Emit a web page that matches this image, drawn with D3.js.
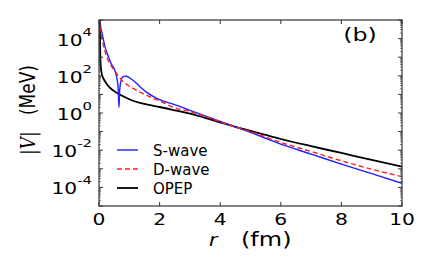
<!DOCTYPE html>
<html>
<head>
<meta charset="utf-8">
<script src="https://cdn.jsdelivr.net/npm/d3@7"></script>
<style>
  body { margin: 0; background: #fff; }
  text { font-family: "DejaVu Sans", sans-serif; }
</style>
</head>
<body>
<div id="chart"></div>
<script>
// chart data
var sR = [0.02, 0.05, 0.1, 0.2, 0.3, 0.4, 0.5, 0.55, 0.6, 0.63, 0.66, 0.68, 0.72, 0.8, 0.9, 1.0, 1.2, 1.4, 1.6, 1.8, 2.0, 2.5, 3.0, 3.5, 4.0, 4.5, 5.0, 5.5, 6.0, 7.0, 8.0, 9.0, 10.0];
var sV = [1.5e5, 5e4, 2e4, 3.5e3, 1.2e3, 4.5e2, 2.4e2, 1.4e2, 60, 25, 2, 15, 50, 90, 95, 80, 45, 22, 12, 7.5, 5.2, 2.8, 1.4, 0.7, 0.35, 0.18, 0.09, 0.044, 0.021, 0.0062, 0.0018, 0.00055, 0.000166];

var dR = [0.02, 0.05, 0.1, 0.2, 0.3, 0.4, 0.5, 0.6, 0.7, 0.8, 1.0, 1.2, 1.4, 1.6, 1.8, 2.0, 2.5, 3.0, 3.5, 4.0, 4.5, 5.0, 6.0, 7.0, 8.0, 9.0, 10.0];
var dV = [1.2e5, 3e4, 1e4, 2e3, 7e2, 3.5e2, 2e2, 1.2e2, 75, 48, 28, 18, 12, 8.5, 6, 4.5, 1.9, 1.2, 0.65, 0.34, 0.18, 0.1, 0.026, 0.0085, 0.0027, 0.00095, 0.00038];

var oR = [0.03, 0.04, 0.06, 0.1, 0.2, 0.35, 0.5, 0.7, 1.0, 1.25, 1.6, 2.0, 2.5, 3.0, 3.5, 4.0, 4.5, 5.0, 5.5, 6.0, 7.0, 8.0, 9.0, 10.0];
var oV = [1e5, 2e3, 300, 110, 50, 24, 15, 9.5, 5.5, 3.9, 2.8, 2.1, 1.4, 0.92, 0.55, 0.31, 0.18, 0.11, 0.066, 0.04, 0.0165, 0.0071, 0.003, 0.0013];

var seriesNames = ["S-wave", "D-wave", "OPEP"];
var xTicks = [0, 2, 4, 6, 8, 10];
var yTicks = [1e-4, 1e-2, 1e0, 1e2, 1e4];

var svgWidth = 436, svgHeight = 273;
var margin = { top: 20, right: 34, bottom: 67, left: 99 };
var width = svgWidth - margin.left - margin.right;
var height = svgHeight - margin.top - margin.bottom;

var svg = d3.select("#chart").append("svg")
  .attr("width", svgWidth)
  .attr("height", svgHeight);

var chartGroup = svg.append("g")
  .attr("transform", `translate(${margin.left}, ${margin.top})`);

var xScale = d3.scaleLinear().domain([0, 10]).range([0, width]);
var yScale = d3.scaleLog().domain([1e-5, 1e5]).range([height, 0]);

chartGroup.append("clipPath").attr("id", "clip")
  .append("rect").attr("width", width).attr("height", height);

var line = d3.line()
  .x(d => xScale(d[0]))
  .y(d => yScale(d[1]))
  .curve(d3.curveMonotoneX);

var series = [
  { name: seriesNames[0], pts: d3.zip(sR, sV), color: "#1f1fff", width: 1.4, dash: null },
  { name: seriesNames[1], pts: d3.zip(dR, dV), color: "#ff2020", width: 1.4, dash: "5,3" },
  { name: seriesNames[2], pts: d3.zip(oR, oV), color: "#000", width: 1.8, dash: null }
];

// text squeezed/stretched horizontally like the original
function stext(parent, x, y, sx, anchor, size) {
  return parent.append("text")
    .attr("transform", `translate(${x}, ${y}) scale(${sx}, 1)`)
    .attr("text-anchor", anchor)
    .attr("font-size", size);
}

var lines = chartGroup.append("g").attr("clip-path", "url(#clip)");
[series[2], series[0], series[1]].forEach(function(s) {
  lines.append("path")
    .attr("d", line(s.pts))
    .attr("fill", "none")
    .attr("stroke", s.color)
    .attr("stroke-width", s.width)
    .attr("stroke-dasharray", s.dash);
});

// axes frame
chartGroup.append("rect")
  .attr("width", width).attr("height", height)
  .attr("fill", "none").attr("stroke", "#333").attr("stroke-width", 1.2);

// x ticks (inward, top & bottom)
xTicks.forEach(function(t) {
  var x = xScale(t);
  chartGroup.append("line").attr("x1", x).attr("x2", x).attr("y1", height).attr("y2", height - 4).attr("stroke", "#333");
  chartGroup.append("line").attr("x1", x).attr("x2", x).attr("y1", 0).attr("y2", 4).attr("stroke", "#333");
  stext(chartGroup, x, height + 19, 1.35, "middle", 15).text(t);
});

// y ticks: majors every decade, minors 2..9
for (var e = -5; e <= 5; e++) {
  var yv = Math.pow(10, e);
  var y = yScale(yv);
  chartGroup.append("line").attr("x1", 0).attr("x2", 4).attr("y1", y).attr("y2", y).attr("stroke", "#333");
  chartGroup.append("line").attr("x1", width).attr("x2", width - 4).attr("y1", y).attr("y2", y).attr("stroke", "#333");
  if (e < 5) {
    for (var m = 2; m <= 9; m++) {
      var ym = yScale(m * yv);
      chartGroup.append("line").attr("x1", 0).attr("x2", 2).attr("y1", ym).attr("y2", ym).attr("stroke", "#333").attr("stroke-width", 0.6);
      chartGroup.append("line").attr("x1", width).attr("x2", width - 2).attr("y1", ym).attr("y2", ym).attr("stroke", "#333").attr("stroke-width", 0.6);
    }
  }
}

yTicks.forEach(function(t) {
  var exp = Math.round(Math.log10(t));
  var txt = stext(chartGroup, -7, yScale(t) + 7, 1.35, "end", 15);
  txt.append("tspan").text("10");
  txt.append("tspan").attr("dy", -10).attr("font-size", 11).text(exp);
});

// y axis label
svg.append("text")
  .attr("transform", "translate(35, 110) rotate(-90) scale(1, 1.2)")
  .attr("text-anchor", "middle")
  .attr("font-size", 17)
  .call(function(t) {
    t.append("tspan").attr("font-family", "DejaVu Serif").text("|");
    t.append("tspan").attr("font-family", "DejaVu Serif").attr("font-style", "italic").text("V");
    t.append("tspan").attr("font-family", "DejaVu Serif").text("|");
    t.append("tspan").text("\u00a0\u00a0\u00a0(MeV)");
  });

// x axis label
stext(svg, 209, 246, 1.2, "start", 17)
  .attr("font-family", "DejaVu Serif").attr("font-style", "italic").text("r");
stext(svg, 241, 246, 1.2, "start", 20).text("(fm)");

// panel tag
stext(svg, 360, 41, 1.4, "middle", 17).text("(b)");

// legend
var legend = svg.append("g").attr("transform", "translate(117, 150)");
series.forEach(function(s, i) {
  var g = legend.append("g").attr("transform", `translate(0, ${i * 19})`);
  g.append("line").attr("x1", 0).attr("x2", 21).attr("y1", 0).attr("y2", 0)
    .attr("stroke", s.color).attr("stroke-width", s.width)
    .attr("stroke-dasharray", s.dash);
  g.append("text").attr("x", 36).attr("y", 5.5).attr("font-size", 15).text(s.name);
});
</script>
</body>
</html>
